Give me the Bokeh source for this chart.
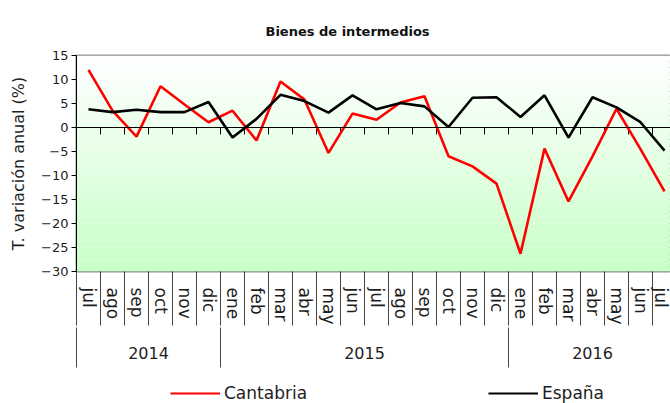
import numpy as np
from bokeh.plotting import figure
from bokeh.layouts import column
from bokeh.models import (FixedTicker, LinearAxis, Range1d, Span, Legend, LegendItem,
                          CustomJSTickFormatter)
from bokeh.embed import file_html
from bokeh.resources import INLINE

# ---------------- data ----------------
months = ["jul", "ago", "sep", "oct", "nov", "dic",
          "ene", "feb", "mar", "abr", "may", "jun", "jul", "ago", "sep", "oct", "nov", "dic",
          "ene", "feb", "mar", "abr", "may", "jun", "jul"]
years = ["2014", "2015", "2016"]
year_month_counts = [6, 12, 7]
cantabria = [12.0, 3.5, -1.9, 8.6, 4.8, 1.1,
             3.5, -2.7, 9.6, 5.8, -5.3, 2.9, 1.6, 5.2, 6.5, -6.0, -8.1, -11.7,
             -26.3, -4.4, -15.4, -6.0, 3.9, -4.5, -13.3]
espana = [3.8, 3.2, 3.7, 3.2, 3.2, 5.3,
          -2.1, 1.8, 6.8, 5.5, 3.1, 6.7, 3.8, 5.1, 4.4, 0.1, 6.2, 6.3,
          2.2, 6.7, -2.1, 6.3, 4.2, 1.1, -4.8]
y_ticks = [15, 10, 5, 0, -5, -10, -15, -20, -25, -30]
series_names = ["Cantabria", "España"]
series_values = [cantabria, espana]
series_colors = ["#ff0000", "#000000"]

FONT = "DejaVu Sans"
TXT = "#1e1e1e"

x = np.arange(len(months))
bounds = np.arange(len(months) + 1) - 0.5
inner_bounds = bounds[1:-1]
year_bounds = [-0.5]
year_centers = []
for c in year_month_counts:
    year_centers.append(year_bounds[-1] + c / 2.0)
    year_bounds.append(year_bounds[-1] + c)

p = figure(width=670, height=380, output_backend="svg", toolbar_location=None,
           x_range=Range1d(-0.5, 24.25), y_range=Range1d(min(y_ticks), max(y_ticks)),
           min_border_left=76, min_border_right=0, min_border_top=55, min_border_bottom=109)
p.grid.visible = False
p.outline_line_color = "#8f8f8f"
p.outline_line_width = 2
p.background_fill_color = "white"
p.border_fill_color = "white"

# title
p.title.text = "Bienes de intermedios"
p.title.align = "left"
p.title.offset = 189
p.title.standoff = 33
p.title.text_font = FONT
p.title.text_font_size = "13px"
p.title.text_font_style = "bold"
p.title.text_color = "#111111"

# gradient background (white top -> light green bottom)
nb = 90
edges = np.linspace(min(y_ticks), max(y_ticks), nb + 1)
centers = (edges[:-1] + edges[1:]) / 2
t = (centers - edges[0]) / (edges[-1] - edges[0])
top_c = np.array([255, 255, 255])
bot_c = np.array([198, 255, 198])
cols = ["#%02x%02x%02x" % tuple(int(round(v)) for v in (bot_c + (top_c - bot_c) * tt)) for tt in t]
p.hbar(y=centers, height=(edges[1] - edges[0]) * 1.08, left=-0.5, right=24.25,
       fill_color=cols, line_color=None)

# zero line and its ticks
p.add_layout(Span(location=0, dimension="width", line_color="black", line_width=1))
p.segment(x0=inner_bounds, y0=np.zeros_like(inner_bounds), x1=inner_bounds,
          y1=np.full_like(inner_bounds, -1.45), line_color="black", line_width=1)

for vals, col in zip(series_values, series_colors):
    p.line(x, vals, line_color=col, line_width=2.6)

# y axis
ya = p.yaxis[0]
ya.ticker = FixedTicker(ticks=y_ticks)
ya.major_tick_out = 5
ya.major_tick_in = 0
ya.minor_tick_out = 0
ya.axis_line_color = "black"
ya.major_tick_line_color = "black"
ya.major_label_text_font = FONT
ya.major_label_text_font_size = "13px"
ya.major_label_text_color = TXT
ya.major_label_standoff = 3
ya.axis_label = "T. variación anual (%)"
ya.axis_label_text_font = FONT
ya.axis_label_text_font_size = "16px"
ya.axis_label_text_font_style = "normal"
ya.axis_label_text_color = TXT
ya.axis_label_standoff = 10

# month axis
xa = p.xaxis[0]
xa.ticker = FixedTicker(ticks=list(x), minor_ticks=list(bounds))
xa.formatter = CustomJSTickFormatter(args=dict(labels=months),
                                     code="return labels[Math.round(tick)] || '';")
xa.major_label_orientation = "vertical"
xa.major_tick_out = 0
xa.major_tick_in = 0
xa.minor_tick_out = 54
xa.minor_tick_in = 0
xa.minor_tick_line_color = "#444444"
xa.axis_line_color = None
xa.major_label_standoff = -38
xa.major_label_text_font = FONT
xa.major_label_text_font_size = "17px"
xa.major_label_text_color = TXT

# year axis
yr = LinearAxis(ticker=FixedTicker(ticks=year_centers, minor_ticks=year_bounds),
                formatter=CustomJSTickFormatter(args=dict(c=year_centers, l=years),
                    code="const i = c.findIndex(v => Math.abs(v - tick) < 1e-6); return i >= 0 ? l[i] : '';"))
yr.major_tick_out = 0
yr.major_tick_in = 0
yr.minor_tick_out = 40
yr.minor_tick_in = 0
yr.minor_tick_line_color = "#444444"
yr.axis_line_color = None
yr.major_label_standoff = -21
yr.major_label_text_font = FONT
yr.major_label_text_font_size = "16px"
yr.major_label_text_color = TXT
p.add_layout(yr, "below")

# legend strip (series drawn out of view; only the legend keys show)
q = figure(width=670, height=23, output_backend="svg", toolbar_location=None,
           x_range=p.x_range, y_range=Range1d(1000, 1001),
           x_axis_location=None, y_axis_location=None,
           min_border_left=0, min_border_right=0, min_border_top=0, min_border_bottom=0)
q.grid.visible = False
q.outline_line_color = None
q.border_fill_color = "white"
q.background_fill_color = "white"
items = []
for name, vals, col in zip(series_names, series_values, series_colors):
    r = q.line(x, vals, line_color=col, line_width=2)
    items.append(LegendItem(label=name, renderers=[r]))
lg = Legend(items=items, location=(94, 0), orientation="horizontal",
            glyph_width=50, glyph_height=18, label_standoff=4, label_width=120,
            spacing=144, padding=0, margin=0, border_line_color=None,
            background_fill_alpha=0, label_text_font=FONT,
            label_text_font_size="17px", label_text_color=TXT, label_height=18)
q.add_layout(lg, "center")

layout = column(p, q, spacing=0)
open("out.html", "w").write(file_html(layout, INLINE))
